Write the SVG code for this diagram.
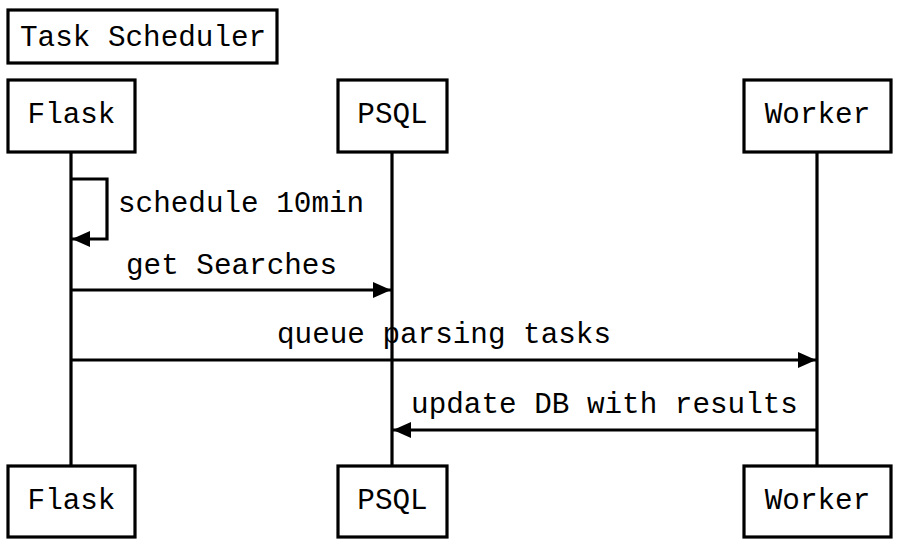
<svg xmlns="http://www.w3.org/2000/svg" width="899" height="546" viewBox="0 0 899 546">
<style>
.box{fill:#fff;stroke:#000;stroke-width:3.2}
.t{font-family:"Liberation Mono","DejaVu Sans Mono",monospace;font-size:29.3px;fill:#000}
.c{text-anchor:middle}
.line{stroke:#000;stroke-width:3.2;fill:none}
</style>
<defs>
<marker id="ah" markerWidth="18" markerHeight="16" refX="18" refY="8" orient="auto" markerUnits="userSpaceOnUse">
<path d="M0,0 L18,8 L0,16 Z" fill="#000"/>
</marker>
</defs>
<rect width="899" height="546" fill="#fff"/>
<g id="title">
<rect class="box" x="8" y="10" width="269" height="53"/>
<text class="t" x="20" y="46">Task Scheduler</text>
</g>
<g id="lifelines">
<line class="line" x1="71" y1="152" x2="71" y2="466"/>
<line class="line" x1="392" y1="152" x2="392" y2="466"/>
<line class="line" x1="817" y1="152" x2="817" y2="466"/>
</g>
<g id="flask-top">
<rect class="box" x="8" y="80" width="127" height="72"/>
<text class="t c" x="71.5" y="123">Flask</text>
</g>
<g id="psql-top">
<rect class="box" x="338" y="80" width="109" height="72"/>
<text class="t c" x="392.5" y="123">PSQL</text>
</g>
<g id="worker-top">
<rect class="box" x="744" y="80" width="147" height="72"/>
<text class="t c" x="817.5" y="123">Worker</text>
</g>
<g id="flask-bottom">
<rect class="box" x="8" y="466" width="127" height="71"/>
<text class="t c" x="71.5" y="509">Flask</text>
</g>
<g id="psql-bottom">
<rect class="box" x="338" y="466" width="109" height="71"/>
<text class="t c" x="392.5" y="509">PSQL</text>
</g>
<g id="worker-bottom">
<rect class="box" x="744" y="466" width="147" height="71"/>
<text class="t c" x="817.5" y="509">Worker</text>
</g>
<g id="connectors">
<path class="line" d="M71,179 H107 V239 H72" marker-end="url(#ah)"/>
<text class="t" x="118" y="212">schedule 10min</text>
<line class="line" x1="71" y1="290" x2="391" y2="290" marker-end="url(#ah)"/>
<text class="t c" x="231.5" y="274">get Searches</text>
<line class="line" x1="71" y1="360" x2="816" y2="360" marker-end="url(#ah)"/>
<text class="t c" x="444" y="343">queue parsing tasks</text>
<line class="line" x1="817" y1="430" x2="393" y2="430" marker-end="url(#ah)"/>
<text class="t c" x="604.5" y="413">update DB with results</text>
</g>
</svg>
